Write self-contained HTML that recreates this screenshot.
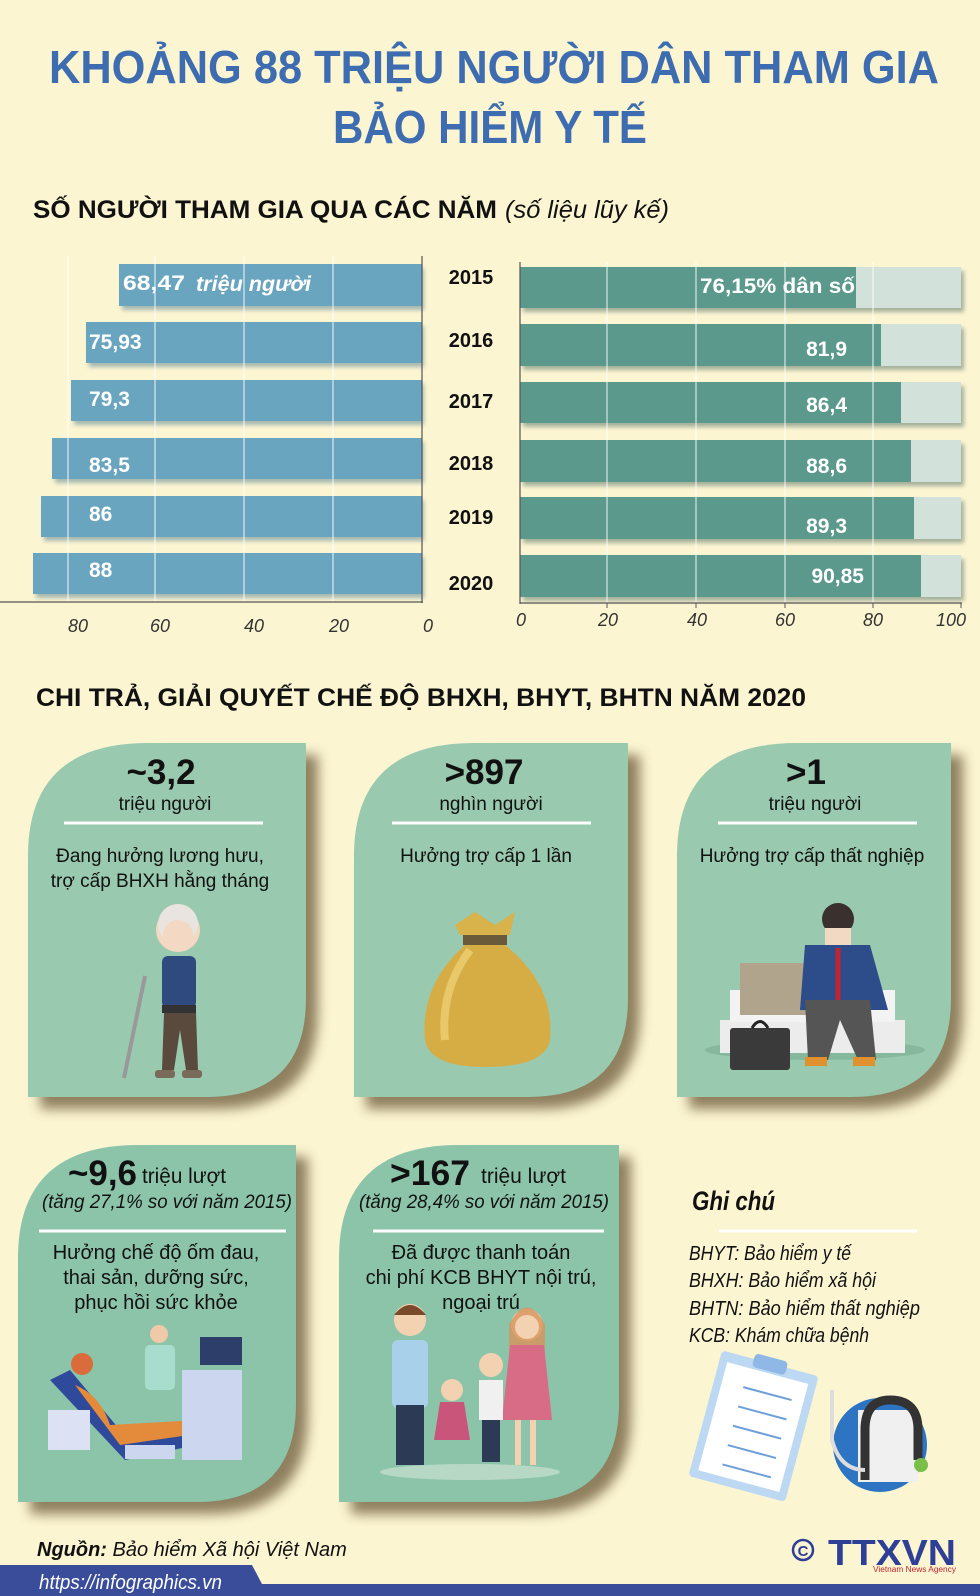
<!DOCTYPE html>
<html><head><meta charset="utf-8">
<style>
html,body{margin:0;padding:0;background:#fcf5d2;}
svg{display:block}
text{font-family:"Liberation Sans Narrow","Liberation Sans","DejaVu Sans",sans-serif;}
</style></head><body>
<svg width="980" height="1596" viewBox="0 0 980 1596" xmlns="http://www.w3.org/2000/svg">
<defs>
<filter id="sh" x="-10%" y="-10%" width="130%" height="130%"><feGaussianBlur stdDeviation="6"/></filter>
<filter id="bs" x="-5%" y="-20%" width="110%" height="160%"><feGaussianBlur stdDeviation="2"/></filter>
</defs>
<rect width="980" height="1596" fill="#fcf5d2"/>

<!-- Titles -->
<text x="494" y="83" font-size="46" font-weight="bold" fill="#3d6cb0" text-anchor="middle" textLength="890" lengthAdjust="spacingAndGlyphs">KHOẢNG 88 TRIỆU NGƯỜI DÂN THAM GIA</text>
<text x="490" y="143" font-size="46" font-weight="bold" fill="#3d6cb0" text-anchor="middle" textLength="314" lengthAdjust="spacingAndGlyphs">BẢO HIỂM Y TẾ</text>
<text x="33" y="218" font-size="25" font-weight="bold" fill="#111" textLength="464" lengthAdjust="spacingAndGlyphs">SỐ NGƯỜI THAM GIA QUA CÁC NĂM</text>
<text x="505" y="218" font-size="25" font-style="italic" fill="#111" textLength="164" lengthAdjust="spacingAndGlyphs">(số liệu lũy kế)</text>

<!-- Left chart -->
<g fill="#3e6f86" opacity="0.45" filter="url(#bs)">
<rect x="122" y="268" width="302" height="42"/><rect x="89" y="326" width="335" height="41"/>
<rect x="74" y="384" width="350" height="41"/><rect x="55" y="442" width="369" height="41"/>
<rect x="44" y="500" width="380" height="41"/><rect x="36" y="557" width="388" height="41"/>
</g>
<g fill="#6aa5bf">
<rect x="119" y="264" width="303" height="42"/><rect x="86" y="322" width="336" height="41"/>
<rect x="71" y="380" width="351" height="41"/><rect x="52" y="438" width="370" height="41"/>
<rect x="41" y="496" width="381" height="41"/><rect x="33" y="553" width="389" height="41"/>
</g>
<g stroke="#fff" stroke-width="1" opacity="0.9">
<line x1="68" y1="256" x2="68" y2="602"/><line x1="155" y1="256" x2="155" y2="602"/>
<line x1="244" y1="256" x2="244" y2="602"/><line x1="333" y1="256" x2="333" y2="602"/>
</g>
<line x1="422" y1="256" x2="422" y2="603" stroke="#555" stroke-width="1.2"/>
<line x1="0" y1="602" x2="423" y2="602" stroke="#555" stroke-width="1.2"/>
<g font-size="21" font-weight="bold" fill="#fff">
<text x="123" y="290" textLength="62" lengthAdjust="spacingAndGlyphs">68,47</text>
<text x="196" y="291" font-style="italic" textLength="115" lengthAdjust="spacingAndGlyphs">triệu người</text>
<text x="89" y="349">75,93</text><text x="89" y="406">79,3</text>
<text x="89" y="472">83,5</text><text x="89" y="521">86</text><text x="89" y="577">88</text>
</g>
<g font-size="18" font-style="italic" fill="#333" text-anchor="middle">
<text x="78" y="632">80</text><text x="160" y="632">60</text><text x="254" y="632">40</text>
<text x="339" y="632">20</text><text x="428" y="632">0</text>
</g>

<!-- Years -->
<g font-size="20" font-weight="bold" fill="#111" text-anchor="middle">
<text x="471" y="284">2015</text><text x="471" y="347">2016</text><text x="471" y="408">2017</text>
<text x="471" y="470">2018</text><text x="471" y="524">2019</text><text x="471" y="590">2020</text>
</g>

<!-- Right chart -->
<g fill="#3b5f57" opacity="0.45" filter="url(#bs)">
<rect x="523" y="271" width="441" height="41"/><rect x="523" y="328" width="441" height="42"/>
<rect x="523" y="386" width="441" height="41"/><rect x="523" y="444" width="441" height="42"/>
<rect x="523" y="501" width="441" height="42"/><rect x="523" y="559" width="441" height="42"/>
</g>
<g fill="#d2e1d9">
<rect x="520" y="267" width="441" height="41"/><rect x="520" y="324" width="441" height="42"/>
<rect x="520" y="382" width="441" height="41"/><rect x="520" y="440" width="441" height="42"/>
<rect x="520" y="497" width="441" height="42"/><rect x="520" y="555" width="441" height="42"/>
</g>
<g fill="#5a998b">
<rect x="520" y="267" width="336" height="41"/><rect x="520" y="324" width="361" height="42"/>
<rect x="520" y="382" width="381" height="41"/><rect x="520" y="440" width="391" height="42"/>
<rect x="520" y="497" width="394" height="42"/><rect x="520" y="555" width="401" height="42"/>
</g>
<g stroke="#fff" stroke-width="1" opacity="0.9">
<line x1="607" y1="262" x2="607" y2="603"/><line x1="696" y1="262" x2="696" y2="603"/>
<line x1="785" y1="262" x2="785" y2="603"/><line x1="873" y1="262" x2="873" y2="603"/>
</g>
<line x1="520" y1="262" x2="520" y2="604" stroke="#555" stroke-width="1.2"/>
<line x1="520" y1="603" x2="962" y2="603" stroke="#555" stroke-width="1.2"/>
<g stroke="#555" stroke-width="1"><line x1="607" y1="603" x2="607" y2="608"/><line x1="696" y1="603" x2="696" y2="608"/><line x1="785" y1="603" x2="785" y2="608"/><line x1="873" y1="603" x2="873" y2="608"/><line x1="961" y1="603" x2="961" y2="608"/></g>
<g font-size="21" font-weight="bold" fill="#fff" text-anchor="end">
<text x="855" y="293" textLength="155" lengthAdjust="spacingAndGlyphs">76,15% dân số</text>
<text x="847" y="356">81,9</text><text x="847" y="412">86,4</text>
<text x="847" y="473">88,6</text><text x="847" y="533">89,3</text><text x="864" y="583">90,85</text>
</g>
<g font-size="18" font-style="italic" fill="#333" text-anchor="middle">
<text x="521" y="626">0</text><text x="608" y="626">20</text><text x="697" y="626">40</text>
<text x="785" y="626">60</text><text x="873" y="626">80</text><text x="951" y="626">100</text>
</g>

<!-- Section 2 heading -->
<text x="36" y="706" font-size="25" font-weight="bold" fill="#111" textLength="770" lengthAdjust="spacingAndGlyphs">CHI TRẢ, GIẢI QUYẾT CHẾ ĐỘ BHXH, BHYT, BHTN NĂM 2020</text>

<!-- Card shadows -->
<g fill="#6b5838" opacity="0.75" filter="url(#sh)">
<path d="M40,868 Q40,755 160,755 L318,755 L318,1010 Q318,1109 218,1109 L40,1109Z"/>
<path d="M366,868 Q366,755 486,755 L640,755 L640,1010 Q640,1109 540,1109 L366,1109Z"/>
<path d="M689,868 Q689,755 809,755 L963,755 L963,1010 Q963,1109 863,1109 L689,1109Z"/>
<path d="M30,1270 Q30,1157 150,1157 L308,1157 L308,1415 Q308,1514 208,1514 L30,1514Z"/>
<path d="M351,1270 Q351,1157 471,1157 L631,1157 L631,1415 Q631,1514 531,1514 L351,1514Z"/>
</g>
<!-- Cards -->
<g fill="#99c9ae">
<path d="M28,856 Q28,743 148,743 L306,743 L306,998 Q306,1097 206,1097 L28,1097Z"/>
<path d="M354,856 Q354,743 474,743 L628,743 L628,998 Q628,1097 528,1097 L354,1097Z"/>
<path d="M677,856 Q677,743 797,743 L951,743 L951,998 Q951,1097 851,1097 L677,1097Z"/>
</g>
<g fill="#8cc4aa">
<path d="M18,1258 Q18,1145 138,1145 L296,1145 L296,1403 Q296,1502 196,1502 L18,1502Z"/>
<path d="M339,1258 Q339,1145 459,1145 L619,1145 L619,1403 Q619,1502 519,1502 L339,1502Z"/>
</g>

<!-- Card texts top -->
<g fill="#111" text-anchor="middle">
<text x="161" y="784" font-size="35" font-weight="bold">~3,2</text>
<text x="484" y="784" font-size="35" font-weight="bold">&gt;897</text>
<text x="806" y="784" font-size="35" font-weight="bold">&gt;1</text>
<g font-size="19">
<text x="165" y="810">triệu người</text><text x="491" y="810">nghìn người</text><text x="815" y="810">triệu người</text>
<text x="160" y="862">Đang hưởng lương hưu,</text><text x="160" y="887">trợ cấp BHXH hằng tháng</text>
<text x="486" y="862">Hưởng trợ cấp 1 lần</text>
<text x="812" y="862">Hưởng trợ cấp thất nghiệp</text>
</g>
</g>
<g stroke="#fff" stroke-width="3">
<line x1="64" y1="823" x2="263" y2="823"/><line x1="392" y1="823" x2="591" y2="823"/><line x1="718" y1="823" x2="917" y2="823"/>
<line x1="39" y1="1231" x2="286" y2="1231"/><line x1="373" y1="1231" x2="604" y2="1231"/><line x1="719" y1="1231" x2="917" y2="1231"/>
</g>

<!-- Old man -->
<g>
<circle cx="178" cy="930" r="22" fill="#f3d8c4"/><circle cx="178" cy="924" r="20" fill="#e9e4df"/>
<circle cx="178" cy="935" r="15" fill="#f3d8c4"/>
<rect x="162" y="956" width="34" height="52" rx="6" fill="#2f4a7e"/>
<rect x="162" y="1005" width="34" height="8" fill="#333"/>
<path d="M164,1013 L196,1013 L198,1070 L186,1070 L180,1030 L174,1070 L162,1070Z" fill="#5a4a3d"/>
<line x1="145" y1="976" x2="124" y2="1078" stroke="#999" stroke-width="4"/>
<rect x="155" y="1070" width="20" height="8" rx="3" fill="#7a6a5a"/><rect x="182" y="1070" width="20" height="8" rx="3" fill="#7a6a5a"/>
</g>
<!-- Money bag -->
<g>
<path d="M455,925 L475,912 L495,925 L515,912 L510,935 L460,935Z" fill="#d8b24a"/>
<rect x="463" y="935" width="44" height="10" fill="#6b5a3a"/>
<path d="M465,945 Q420,985 425,1040 Q430,1067 485,1067 Q545,1067 550,1040 Q555,985 505,945Z" fill="#d6ad45"/>
<path d="M470,950 Q440,990 445,1040" stroke="#e8c869" stroke-width="8" fill="none"/>
</g>
<!-- Unemployed man -->
<g>
<ellipse cx="815" cy="1050" rx="110" ry="10" fill="#86b89d"/>
<rect x="720" y="1020" width="185" height="33" fill="#ececec"/>
<rect x="730" y="990" width="165" height="32" fill="#f3f3f3"/>
<rect x="740" y="963" width="70" height="52" fill="#b1a48d"/>
<rect x="730" y="1028" width="60" height="42" rx="3" fill="#3a3a3a"/>
<path d="M752,1028 Q760,1015 768,1028" stroke="#222" stroke-width="3" fill="none"/>
<circle cx="838" cy="919" r="16" fill="#3a302d"/>
<rect x="825" y="928" width="26" height="20" fill="#f1d9c4"/>
<path d="M805,945 L870,945 L888,1010 L800,1010Z" fill="#2c4c8a"/>
<line x1="838" y1="948" x2="838" y2="1005" stroke="#c0262d" stroke-width="5"/>
<path d="M805,1000 L870,1000 L876,1060 L858,1060 L840,1020 L828,1060 L808,1060Z" fill="#555"/>
<rect x="805" y="1057" width="22" height="9" fill="#e0912f"/><rect x="853" y="1057" width="22" height="9" fill="#e0912f"/>
</g>

<!-- Bottom card texts -->
<g fill="#111">
<text x="68" y="1185" font-size="35" font-weight="bold" textLength="69" lengthAdjust="spacingAndGlyphs">~9,6</text>
<text x="142" y="1183" font-size="21" textLength="84" lengthAdjust="spacingAndGlyphs">triệu lượt</text>
<text x="42" y="1208" font-size="19" font-style="italic" textLength="250" lengthAdjust="spacingAndGlyphs">(tăng 27,1% so với năm 2015)</text>
<text x="390" y="1185" font-size="35" font-weight="bold" textLength="80" lengthAdjust="spacingAndGlyphs">&gt;167</text>
<text x="481" y="1183" font-size="21" textLength="85" lengthAdjust="spacingAndGlyphs">triệu lượt</text>
<text x="359" y="1208" font-size="19" font-style="italic" textLength="250" lengthAdjust="spacingAndGlyphs">(tăng 28,4% so với năm 2015)</text>
<g font-size="20" text-anchor="middle">
<text x="156" y="1259">Hưởng chế độ ốm đau,</text><text x="156" y="1284">thai sản, dưỡng sức,</text><text x="156" y="1309">phục hồi sức khỏe</text>
<text x="481" y="1259">Đã được thanh toán</text><text x="481" y="1284">chi phí KCB BHYT nội trú,</text><text x="481" y="1309">ngoại trú</text>
</g>
</g>

<!-- Ultrasound illustration -->
<g>
<path d="M50,1380 L70,1370 L120,1430 L205,1420 L220,1440 L125,1460 Z" fill="#2f4a9a"/>
<path d="M75,1385 Q100,1395 110,1425 L200,1420 L210,1432 L120,1445Z" fill="#e38b3a"/>
<circle cx="82" cy="1364" r="11" fill="#d96c3a"/>
<rect x="145" y="1345" width="30" height="45" rx="5" fill="#a8dccd"/>
<circle cx="159" cy="1334" r="9" fill="#f0c9a8"/>
<rect x="200" y="1337" width="42" height="28" fill="#2d3e6b"/>
<rect x="182" y="1370" width="60" height="90" fill="#cdd6ef"/>
<rect x="48" y="1410" width="42" height="40" fill="#dce2f3"/>
<rect x="125" y="1445" width="50" height="14" fill="#cdd6ef"/>
</g>
<!-- Family illustration -->
<g>
<ellipse cx="470" cy="1472" rx="90" ry="8" fill="#b8d8c6"/>
<circle cx="410" cy="1320" r="16" fill="#f3d2b2"/><path d="M394,1315 Q410,1295 426,1315Z" fill="#7a4a2a"/>
<rect x="392" y="1340" width="36" height="68" rx="6" fill="#a9d0ea"/>
<rect x="396" y="1405" width="28" height="60" fill="#2d3a55"/>
<circle cx="527" cy="1325" r="16" fill="#f3d2b2"/><path d="M509,1325 Q527,1290 545,1325 L545,1360 L509,1360Z" fill="#d8945a" opacity="0.8"/><circle cx="527" cy="1327" r="12" fill="#f3d2b2"/>
<path d="M510,1345 L544,1345 L552,1420 L502,1420Z" fill="#d86c86"/>
<rect x="515" y="1420" width="6" height="45" fill="#f3d2b2"/><rect x="530" y="1420" width="6" height="45" fill="#f3d2b2"/>
<circle cx="491" cy="1365" r="12" fill="#f3d2b2"/>
<rect x="479" y="1380" width="24" height="40" fill="#f0f0f0"/><rect x="482" y="1420" width="18" height="42" fill="#2d3a55"/>
<circle cx="452" cy="1390" r="11" fill="#f3d2b2"/>
<path d="M440,1402 L464,1402 L470,1440 L434,1440Z" fill="#c9557a"/>
</g>

<!-- Ghi chú -->
<text x="692" y="1210" font-size="27" font-style="italic" font-weight="bold" fill="#111" textLength="83" lengthAdjust="spacingAndGlyphs">Ghi chú</text>
<g font-size="20" font-style="italic" fill="#111">
<text x="689" y="1260" textLength="162" lengthAdjust="spacingAndGlyphs">BHYT: Bảo hiểm y tế</text>
<text x="689" y="1287" textLength="187" lengthAdjust="spacingAndGlyphs">BHXH: Bảo hiểm xã hội</text>
<text x="689" y="1315" textLength="231" lengthAdjust="spacingAndGlyphs">BHTN: Bảo hiểm thất nghiệp</text>
<text x="689" y="1342" textLength="180" lengthAdjust="spacingAndGlyphs">KCB: Khám chữa bệnh</text>
</g>
<!-- clipboard & stethoscope -->
<g transform="rotate(15 750 1420)">
<rect x="705" y="1360" width="100" height="130" rx="4" fill="#bcd8f2"/>
<rect x="713" y="1370" width="84" height="112" fill="#fff"/>
<rect x="738" y="1354" width="34" height="14" rx="4" fill="#8fb8e6"/>
<g stroke="#6f9fd8" stroke-width="2"><line x1="735" y1="1390" x2="785" y2="1390"/><line x1="735" y1="1410" x2="785" y2="1410"/><line x1="735" y1="1430" x2="785" y2="1430"/><line x1="735" y1="1450" x2="785" y2="1450"/><line x1="735" y1="1470" x2="785" y2="1470"/></g>
</g>
<circle cx="880" cy="1445" r="47" fill="#2d75c2"/>
<rect x="858" y="1410" width="60" height="72" fill="#f0f0f0"/>
<path d="M865,1480 L865,1430 Q865,1400 890,1400 Q918,1400 918,1430 L918,1460" stroke="#333" stroke-width="9" fill="none"/>
<circle cx="921" cy="1465" r="7" fill="#7bbf4a"/>
<path d="M832,1390 L832,1440 Q840,1470 865,1470" stroke="#ddd" stroke-width="4" fill="none"/>

<!-- Source & footer -->
<text x="37" y="1556" font-size="20" font-style="italic" fill="#111"><tspan font-weight="bold">Nguồn:</tspan> Bảo hiểm Xã hội Việt Nam</text>
<path d="M0,1565 L252,1565 L262,1584 L980,1584 L980,1596 L0,1596Z" fill="#3a4d9b"/>
<text x="39" y="1589" font-size="20" font-style="italic" fill="#fff" textLength="183" lengthAdjust="spacingAndGlyphs">https://infographics.vn</text>
<circle cx="803" cy="1550" r="10" fill="none" stroke="#2e3f96" stroke-width="2.5"/>
<text x="803" y="1556" font-size="15" font-weight="bold" fill="#2e3f96" text-anchor="middle">C</text>
<text x="828" y="1565" font-size="36" font-weight="bold" fill="#2e3f96" textLength="128" lengthAdjust="spacingAndGlyphs">TTXVN</text>
<text x="873" y="1572" font-size="8" fill="#c0262d" textLength="83" lengthAdjust="spacingAndGlyphs">Vietnam News Agency</text>
</svg>
</body></html>
